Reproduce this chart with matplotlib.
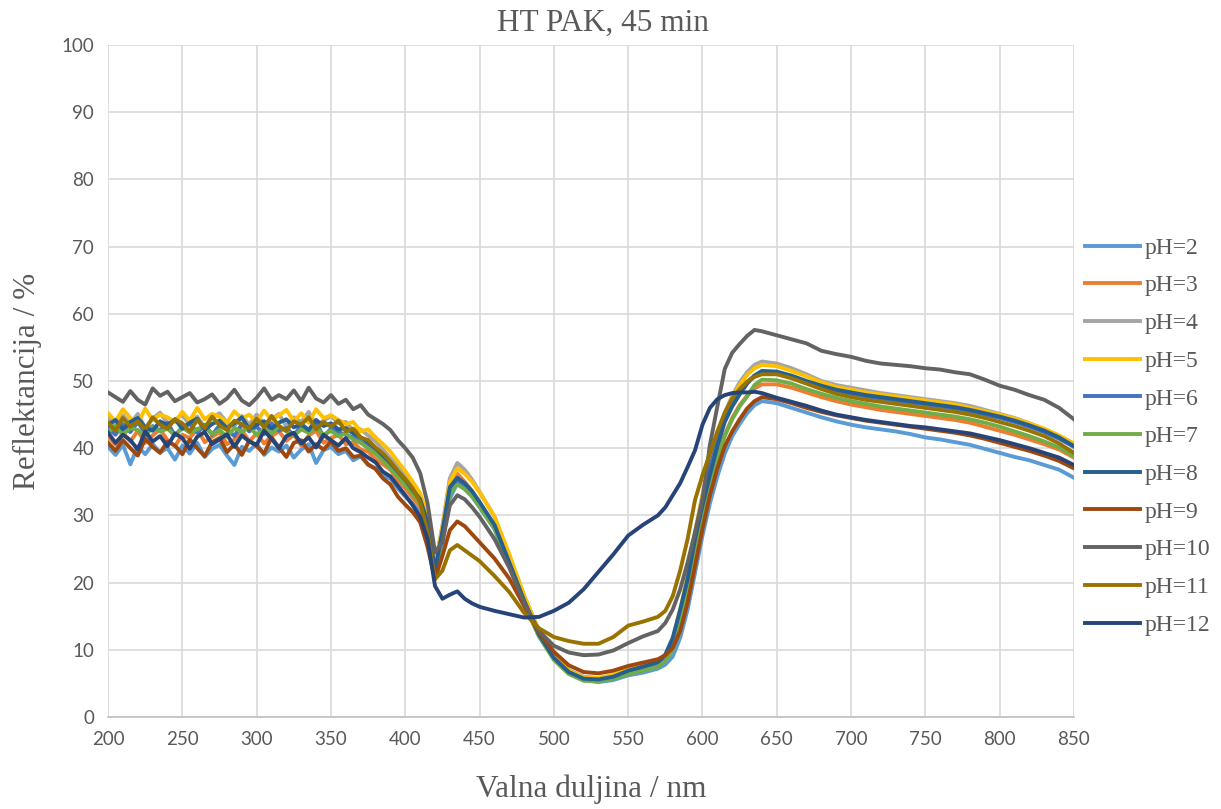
import matplotlib
matplotlib.use("Agg")
import matplotlib.pyplot as plt

# wavelength grid (nm): fine steps in noisy / steep parts
wavelength = (list(range(200, 455, 5)) + list(range(460, 575, 10))
              + list(range(575, 645, 5)) + list(range(650, 860, 10)))

ph2 = [40.2, 39.0, 40.5, 37.6, 40.3, 39.1, 40.6, 39.4, 40.0, 38.3, 40.4, 39.2, 40.8, 38.7, 39.9, 40.5, 38.9, 37.5, 40.2, 39.6,
       40.7, 39.0, 40.1, 39.5, 40.4, 38.6, 39.8, 40.6, 37.8, 39.7, 40.2, 39.1, 39.6, 38.2, 38.8, 37.5, 37.0, 35.8, 35.5, 34.0, 32.8,
       31.8, 30.5, 27.5, 21.5, 26.0, 32.5, 34.8, 34.0, 32.8, 31.2,
       28.0, 22.5, 17.0, 12.3, 8.8, 6.7, 5.5, 5.2, 5.5, 6.2, 6.6, 7.2,
       7.8, 9.0, 11.8, 16.0, 21.5, 27.0, 31.8, 35.8, 39.2, 41.8, 43.6, 45.2, 46.4, 47.0,
       46.7, 46.0, 45.3, 44.6, 44.0, 43.5, 43.1, 42.8, 42.5, 42.1, 41.6, 41.3, 40.9, 40.5, 39.9, 39.3, 38.7, 38.2, 37.5, 36.8, 35.6]

ph3 = [41.8, 40.5, 42.3, 41.0, 42.6, 40.8, 41.9, 42.8, 41.2, 40.3, 42.0, 41.5, 42.9, 40.9, 41.7, 42.4, 40.6, 41.3, 42.7, 41.0,
       42.2, 40.7, 41.8, 42.5, 41.1, 42.0, 40.4, 41.9, 42.6, 40.8, 41.5, 42.0, 40.6, 40.9, 39.8, 39.5, 38.4, 37.6, 36.8, 35.2, 34.0,
       32.6, 31.4, 28.0, 21.8, 27.0, 33.5, 36.2, 35.0, 33.6, 31.8,
       28.4, 22.6, 16.8, 12.0, 8.7, 6.8, 5.8, 5.7, 6.0, 6.8, 7.3, 7.9,
       8.8, 10.5, 14.0, 18.5, 24.5, 30.0, 34.8, 38.8, 42.0, 44.5, 46.4, 47.8, 48.9, 49.5,
       49.5, 49.0, 48.3, 47.6, 47.0, 46.5, 46.1, 45.7, 45.4, 45.1, 44.8, 44.5, 44.2, 43.8, 43.2, 42.6, 42.0, 41.3, 40.6, 39.8, 38.6]

ph4 = [44.6, 43.2, 44.9, 43.6, 45.1, 43.0, 44.4, 45.3, 43.7, 44.2, 45.0, 43.4, 44.7, 43.1, 44.5, 45.2, 43.8, 43.3, 44.8, 43.5,
       45.0, 43.6, 44.3, 45.1, 43.2, 44.6, 43.9, 45.4, 43.4, 44.1, 44.8, 43.7, 43.9, 42.6, 42.8, 41.9, 41.0, 39.8, 38.5, 37.4, 36.0,
       34.5, 32.8, 29.5, 22.5, 28.5, 35.5, 37.8, 36.8, 35.3, 33.5,
       29.8, 24.0, 18.0, 12.8, 9.2, 7.0, 6.0, 5.8, 6.2, 7.0, 7.5, 8.1,
       9.0, 11.0, 15.5, 21.0, 27.5, 33.0, 37.8, 41.8, 45.2, 47.8, 49.8, 51.3, 52.4, 52.9,
       52.6, 51.9, 51.0, 50.0, 49.4, 49.0, 48.6, 48.2, 47.9, 47.6, 47.3, 47.0, 46.7, 46.3, 45.7, 45.1, 44.5, 43.7, 42.8, 41.8, 40.6]

ph5 = [45.2, 44.0, 45.8, 44.5, 43.6, 45.9, 44.2, 45.0, 44.6, 43.9, 45.4, 44.1, 46.0, 44.3, 45.1, 44.7, 43.8, 45.5, 44.4, 45.0,
       43.9, 45.6, 44.2, 44.9, 45.7, 44.0, 45.2, 43.8, 45.8, 44.5, 44.9, 44.2, 43.6, 43.9, 42.5, 42.8, 41.6, 40.6, 39.5, 38.0, 36.6,
       35.0, 33.3, 30.0, 22.4, 28.2, 35.0, 37.0, 36.2, 35.0, 33.4,
       29.9, 24.2, 18.1, 12.8, 9.1, 6.9, 5.9, 5.8, 6.3, 7.1, 7.6, 8.2,
       9.2, 11.5, 16.0, 21.0, 27.5, 33.0, 37.8, 41.8, 45.0, 47.5, 49.4, 50.9, 51.9, 52.4,
       52.2, 51.5, 50.7, 49.8, 49.1, 48.7, 48.3, 48.0, 47.7, 47.4, 47.1, 46.8, 46.5, 46.0, 45.5, 45.0, 44.4, 43.7, 42.9, 41.9, 40.7]

ph6 = [43.0, 42.0, 43.6, 42.4, 43.9, 42.2, 43.3, 42.6, 43.8, 41.9, 43.1, 43.7, 42.3, 43.5, 42.0, 43.4, 42.8, 41.8, 43.6, 42.5,
       43.2, 42.1, 43.7, 42.6, 43.0, 41.9, 43.4, 42.7, 43.9, 41.7, 42.9, 42.4, 42.0, 41.6, 40.9, 40.3, 39.4, 38.3, 37.3, 36.0, 34.8,
       33.4, 32.0, 28.6, 21.6, 27.2, 33.8, 35.2, 34.4, 33.2, 31.6,
       28.3, 22.8, 17.2, 12.2, 8.7, 6.6, 5.6, 5.4, 5.8, 6.6, 7.1, 7.7,
       8.6, 10.6, 15.0, 20.5, 27.0, 32.5, 37.2, 41.0, 44.2, 46.6, 48.4, 49.8, 50.8, 51.3,
       51.2, 50.6, 49.9, 49.1, 48.5, 48.1, 47.7, 47.4, 47.1, 46.8, 46.5, 46.2, 45.9, 45.5, 45.0, 44.5, 43.9, 43.2, 42.4, 41.4, 40.2]

ph7 = [42.4, 43.3, 42.0, 43.0, 42.7, 41.8, 43.2, 42.5, 42.9, 41.9, 43.1, 42.3, 42.8, 43.4, 42.1, 42.7, 41.7, 43.0, 42.4, 43.2,
       42.0, 42.9, 42.2, 43.3, 42.5, 41.9, 42.8, 42.3, 43.1, 42.0, 42.6, 41.8, 42.2, 41.3, 40.8, 40.0, 39.2, 38.2, 37.0, 35.8, 34.5,
       33.2, 31.8, 28.3, 21.4, 27.0, 33.3, 34.6, 33.9, 32.8, 31.3,
       28.0, 22.5, 16.9, 12.0, 8.5, 6.4, 5.4, 5.3, 5.7, 6.4, 6.9, 7.5,
       8.3, 10.0, 13.8, 18.5, 24.5, 30.0, 34.5, 38.5, 41.8, 44.3, 46.2, 47.7, 49.4, 50.2,
       50.1, 49.6, 48.8, 48.1, 47.5, 47.0, 46.6, 46.2, 45.9, 45.6, 45.3, 45.0, 44.7, 44.3, 43.8, 43.2, 42.5, 41.8, 41.0, 40.1, 38.8]

ph8 = [43.5, 44.2, 42.8, 43.9, 44.5, 43.1, 42.6, 44.0, 43.4, 44.3, 42.9, 43.8, 44.4, 42.7, 43.6, 44.1, 43.0, 43.7, 44.6, 42.8,
       43.5, 44.0, 42.9, 43.8, 44.3, 43.1, 43.6, 42.7, 44.2, 43.3, 43.7, 42.8, 43.0, 42.2, 41.6, 40.9, 40.0, 38.9, 37.8, 36.5, 35.3,
       33.8, 32.4, 29.0, 21.8, 27.6, 34.2, 35.6, 34.8, 33.6, 32.0,
       28.6, 23.0, 17.3, 12.3, 8.8, 6.7, 5.7, 5.6, 6.0, 6.9, 7.5, 8.2,
       9.3, 11.8, 16.0, 20.5, 26.5, 31.5, 36.0, 40.3, 43.9, 46.2, 48.0, 49.6, 50.8, 51.5,
       51.4, 50.8, 50.0, 49.3, 48.7, 48.3, 47.9, 47.6, 47.3, 47.0, 46.7, 46.4, 46.1, 45.7, 45.2, 44.7, 44.1, 43.4, 42.6, 41.6, 40.3]

ph9 = [40.8, 39.6, 41.2, 40.0, 38.9, 41.4, 40.2, 39.3, 41.0, 40.4, 39.1, 41.3, 40.0, 38.8, 40.9, 41.5, 39.4, 40.6, 39.0, 41.1,
       40.3, 39.2, 41.6, 40.1, 38.7, 40.8, 41.2, 39.5, 40.6, 39.8, 41.0, 39.6, 40.0, 38.7, 38.9, 37.6, 36.9, 35.5, 34.6, 32.8, 31.6,
       30.5, 29.0, 25.3, 20.5, 24.0, 27.8, 29.1, 28.4, 27.2, 26.0,
       23.6, 20.6, 16.5, 12.6, 9.7, 7.7, 6.7, 6.5, 6.9, 7.6, 8.1, 8.6,
       9.2, 10.3, 12.8, 17.0, 22.5, 28.0, 33.0, 37.0, 40.3, 42.5, 44.3, 45.9, 47.0, 47.6,
       47.3, 46.7, 46.0, 45.4, 44.9, 44.5, 44.1, 43.8, 43.5, 43.2, 42.9, 42.6, 42.3, 41.9, 41.4, 40.8, 40.2, 39.6, 38.9, 38.1, 37.0]

ph10 = [48.3, 47.6, 46.9, 48.5, 47.2, 46.5, 48.9, 47.8, 48.4, 47.0, 47.6, 48.2, 46.8, 47.3, 48.0, 46.6, 47.4, 48.7, 47.1, 46.4,
        47.5, 48.9, 47.2, 47.9, 47.3, 48.6, 47.0, 49.0, 47.4, 46.8, 47.9, 46.6, 47.2, 45.8, 46.4, 45.0, 44.3, 43.6, 42.7, 41.2, 40.0,
        38.6, 36.3, 31.8, 24.5, 26.0, 31.5, 33.0, 32.4, 31.2, 29.8,
        26.5, 22.2, 17.0, 12.8, 10.6, 9.6, 9.2, 9.3, 9.9, 11.0, 12.0, 12.8,
        14.0, 16.0, 19.0, 23.0, 27.5, 32.3, 40.5, 46.2, 51.8, 54.2, 55.5, 56.7, 57.6, 57.4,
        56.8, 56.2, 55.6, 54.5, 54.0, 53.6, 53.0, 52.6, 52.4, 52.2, 51.9, 51.7, 51.3, 51.0, 50.2, 49.3, 48.7, 47.9, 47.2, 46.0, 44.3]

ph11 = [43.8, 42.6, 44.5, 43.2, 44.0, 42.8, 44.6, 43.5, 42.9, 44.3, 43.7, 42.5, 44.2, 43.0, 44.7, 43.4, 42.7, 44.1, 43.6, 42.9,
        44.4, 43.1, 44.8, 43.3, 42.6, 44.0, 43.5, 44.6, 42.8, 43.9, 43.2, 44.1, 42.5, 42.9, 41.6, 41.2, 40.1, 39.2, 38.0, 36.6, 35.4,
        34.0, 32.0, 27.5, 20.5, 21.8, 24.8, 25.6, 24.8, 24.0, 23.2,
        21.0, 18.6, 15.5, 13.2, 11.9, 11.3, 10.9, 10.9, 11.9, 13.6, 14.2, 14.9,
        15.8, 18.0, 21.8, 26.5, 32.3, 36.0, 39.2, 42.5, 45.3, 47.4, 48.8, 49.9, 50.6, 51.0,
        51.0, 50.4, 49.6, 48.8, 48.1, 47.6, 47.2, 46.9, 46.6, 46.3, 46.0, 45.7, 45.4, 45.0, 44.5, 43.9, 43.3, 42.6, 41.8, 40.7, 39.3]

ph12 = [42.3, 40.8, 42.0, 41.2, 39.8, 42.5, 41.0, 41.8, 40.3, 42.2, 41.5, 39.9, 41.7, 42.4, 40.6, 41.3, 42.1, 40.2, 41.9, 41.0,
        40.5, 42.6, 41.4, 40.0, 41.8, 42.3, 40.7, 41.6, 40.1, 42.0, 41.2, 40.4, 41.5, 40.0, 39.4, 38.6, 37.9, 36.5, 35.8, 34.4, 33.0,
        31.5, 29.8, 26.5, 19.5, 17.6, 18.2, 18.7, 17.6, 16.9, 16.4,
        15.8, 15.3, 14.8, 14.9, 15.8, 17.0, 19.0, 21.6, 24.2, 27.0, 28.6, 30.0,
        31.2, 33.0, 34.8, 37.2, 39.7, 43.5, 46.0, 47.3, 47.9, 48.2, 48.3, 48.3, 48.4, 48.2,
        47.5, 46.9, 46.3, 45.6, 45.0, 44.6, 44.2, 43.9, 43.6, 43.3, 43.1, 42.8, 42.5, 42.2, 41.7, 41.2, 40.6, 40.0, 39.3, 38.6, 37.5]

series = [ph2, ph3, ph4, ph5, ph6, ph7, ph8, ph9, ph10, ph11, ph12]
labels = ["pH=2", "pH=3", "pH=4", "pH=5", "pH=6", "pH=7", "pH=8", "pH=9", "pH=10", "pH=11", "pH=12"]
colors = ["#5B9BD5", "#ED7D31", "#A5A5A5", "#FFC000", "#4472C4", "#70AD47",
          "#255E91", "#9E480E", "#636363", "#997300", "#264478"]

fig = plt.figure(figsize=(12.21, 8.09), dpi=100)
ax = fig.add_axes([0.0885, 0.1137, 0.7911, 0.8307])

for vals, lab, col in zip(series, labels, colors):
    ax.plot(wavelength, vals, color=col, lw=2.8, label=lab, solid_joinstyle="round")

ax.set_xlim(200, 850)
ax.set_ylim(0, 100)
ax.set_xticks(range(200, 851, 50))
ax.set_yticks(range(0, 101, 10))
ax.grid(True, color="#D9D9D9", lw=1.2)
ax.set_axisbelow(True)
for s in ["top", "right", "left"]:
    ax.spines[s].set_visible(False)
ax.spines["bottom"].set_color("#BFBFBF")
ax.spines["bottom"].set_linewidth(1.2)
ax.tick_params(length=0, labelsize=13.5, labelcolor="#595959", pad=10)
for t in ax.get_xticklabels() + ax.get_yticklabels():
    t.set_fontfamily("Lato")

serif = "Liberation Serif"
# Excel centres the title over the whole chart (plot + legend)
ax.set_title("HT PAK, 45 min", fontsize=22.5, color="#595959", family=serif, pad=10, x=0.5124)
ax.set_xlabel("Valna duljina / nm", fontsize=22.5, color="#595959", family=serif, labelpad=19)
ax.set_ylabel("Reflektancija / %", fontsize=22.5, color="#595959", family=serif, labelpad=14)

leg = fig.legend(loc="upper left", bbox_to_anchor=(0.871, 0.733), frameon=False,
                 prop={"family": serif, "size": 17}, labelcolor="#595959",
                 handlelength=2.35, handletextpad=0.2, labelspacing=0.685, borderpad=0.4)

fig.savefig("out.png", dpi=100)
